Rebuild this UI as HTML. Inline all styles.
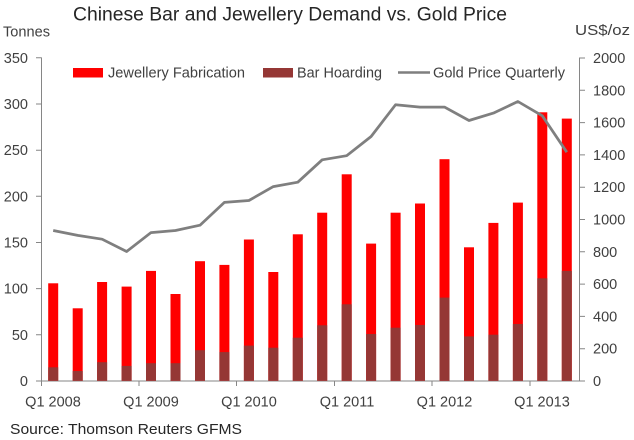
<!DOCTYPE html>
<html><head><meta charset="utf-8"><style>
html,body{margin:0;padding:0;background:#fff;}
svg{display:block;}
text{font-family:"Liberation Sans",sans-serif;fill:#404040;}
</style></head><body>
<svg width="634" height="440" viewBox="0 0 634 440" xmlns="http://www.w3.org/2000/svg">
<rect width="634" height="440" fill="#fff"/>
<text x="73" y="20.5" font-size="19" textLength="434" lengthAdjust="spacingAndGlyphs" style="fill:#262626">Chinese Bar and Jewellery Demand vs. Gold Price</text>
<text x="3" y="36.5" font-size="14.5" textLength="47" lengthAdjust="spacingAndGlyphs">Tonnes</text>
<text x="575" y="35" font-size="14.5" textLength="55" lengthAdjust="spacingAndGlyphs">US$/oz</text>

<!-- legend -->
<rect x="73" y="68" width="30" height="9.5" fill="#ff0000"/>
<text x="108" y="77.5" font-size="15" textLength="137" lengthAdjust="spacingAndGlyphs">Jewellery Fabrication</text>
<rect x="263" y="68" width="30" height="9.5" fill="#953735"/>
<text x="297" y="77.5" font-size="15" textLength="85" lengthAdjust="spacingAndGlyphs">Bar Hoarding</text>
<line x1="398" y1="72.5" x2="430" y2="72.5" stroke="#7f7f7f" stroke-width="2.5"/>
<text x="433" y="77.5" font-size="15" textLength="132" lengthAdjust="spacingAndGlyphs">Gold Price Quarterly</text>

<!-- axes -->
<g stroke="#868686" stroke-width="1" fill="none">
<line x1="41.5" y1="57.5" x2="41.5" y2="381"/>
<line x1="579.5" y1="57.5" x2="579.5" y2="381"/>
<line x1="41" y1="381" x2="580" y2="381"/>
<path d="M36 381H41.5M36 334.8H41.5M36 288.6H41.5M36 242.5H41.5M36 196.3H41.5M36 150.2H41.5M36 104H41.5M36 57.8H41.5"/>
<path d="M579.5 381H585M579.5 348.7H585M579.5 316.4H585M579.5 284.1H585M579.5 251.8H585M579.5 219.5H585M579.5 187.2H585M579.5 154.9H585M579.5 122.6H585M579.5 90.3H585M579.5 58H585"/>
<path d="M41.5 381V386M139 381V386M236.5 381V386M334.5 381V386M432 381V386M530 381V386"/>
</g>

<!-- left ticks -->
<g font-size="14.5" text-anchor="end">
<text x="28" y="386">0</text>
<text x="28" y="339.8">50</text>
<text x="28" y="293.6">100</text>
<text x="28" y="247.5">150</text>
<text x="28" y="201.3">200</text>
<text x="28" y="155.2">250</text>
<text x="28" y="109">300</text>
<text x="28" y="62.8">350</text>
</g>
<!-- right ticks -->
<g font-size="14.5">
<text x="593" y="386">0</text>
<text x="593" y="353.7">200</text>
<text x="593" y="321.4">400</text>
<text x="593" y="289.1">600</text>
<text x="593" y="256.8">800</text>
<text x="593" y="224.5">1000</text>
<text x="593" y="192.2">1200</text>
<text x="593" y="159.9">1400</text>
<text x="593" y="127.6">1600</text>
<text x="593" y="95.3">1800</text>
<text x="593" y="63">2000</text>
</g>
<!-- x labels -->
<g font-size="14.5" text-anchor="middle">
<text x="53" y="406.5">Q1 2008</text>
<text x="151" y="406.5">Q1 2009</text>
<text x="249" y="406.5">Q1 2010</text>
<text x="347" y="406.5">Q1 2011</text>
<text x="444.5" y="406.5">Q1 2012</text>
<text x="542" y="406.5">Q1 2013</text>
</g>
<text x="10" y="434" font-size="15" textLength="232" lengthAdjust="spacingAndGlyphs" style="fill:#262626">Source: Thomson Reuters GFMS</text>

<!-- red bars -->
<g fill="#ff0000">
<rect x="48.2" y="283.3" width="10" height="97.4"/>
<rect x="72.7" y="308.3" width="10" height="72.4"/>
<rect x="97.1" y="282" width="10" height="98.7"/>
<rect x="121.6" y="286.6" width="10" height="94.1"/>
<rect x="146" y="270.9" width="10" height="109.8"/>
<rect x="170.5" y="294" width="10" height="86.7"/>
<rect x="195" y="261.2" width="10" height="119.5"/>
<rect x="219.4" y="264.9" width="10" height="115.8"/>
<rect x="243.9" y="239.5" width="10" height="141.2"/>
<rect x="268.3" y="272" width="10" height="108.7"/>
<rect x="292.8" y="234.3" width="10" height="146.4"/>
<rect x="317.2" y="212.7" width="10" height="168"/>
<rect x="341.7" y="174.3" width="10" height="206.4"/>
<rect x="366.1" y="243.6" width="10" height="137.1"/>
<rect x="390.6" y="212.7" width="10" height="168"/>
<rect x="415" y="203.5" width="10" height="177.2"/>
<rect x="439.5" y="159.2" width="10" height="221.5"/>
<rect x="464" y="247.3" width="10" height="133.4"/>
<rect x="488.4" y="222.9" width="10" height="157.8"/>
<rect x="512.9" y="202.6" width="10" height="178.1"/>
<rect x="537.3" y="112.3" width="10" height="268.4"/>
<rect x="561.8" y="118.6" width="10" height="262.1"/>
</g>
<!-- dark bars -->
<g fill="#953735">
<rect x="48.2" y="367.3" width="10" height="13.4"/>
<rect x="72.7" y="371" width="10" height="9.7"/>
<rect x="97.1" y="362.2" width="10" height="18.5"/>
<rect x="121.6" y="365.9" width="10" height="14.8"/>
<rect x="146" y="363.2" width="10" height="17.5"/>
<rect x="170.5" y="363.2" width="10" height="17.5"/>
<rect x="195" y="350.2" width="10" height="30.5"/>
<rect x="219.4" y="352.1" width="10" height="28.6"/>
<rect x="243.9" y="345.6" width="10" height="35.1"/>
<rect x="268.3" y="347.7" width="10" height="33"/>
<rect x="292.8" y="337.7" width="10" height="43"/>
<rect x="317.2" y="325.3" width="10" height="55.4"/>
<rect x="341.7" y="304.3" width="10" height="76.4"/>
<rect x="366.1" y="334" width="10" height="46.7"/>
<rect x="390.6" y="327.7" width="10" height="53"/>
<rect x="415" y="325" width="10" height="55.7"/>
<rect x="439.5" y="297.6" width="10" height="83.1"/>
<rect x="464" y="336.4" width="10" height="44.3"/>
<rect x="488.4" y="334.7" width="10" height="46"/>
<rect x="512.9" y="324" width="10" height="56.7"/>
<rect x="537.3" y="278.3" width="10" height="102.4"/>
<rect x="561.8" y="270.9" width="10" height="109.8"/>
</g>

<!-- gold price line -->
<polyline fill="none" stroke="#7f7f7f" stroke-width="2.75" stroke-linejoin="round"
points="53.2,230.5 77.7,235.4 102.1,239.2 126.6,251.5 151,232.6 175.5,230.5 200,225.2 224.4,202.4 248.9,200.5 273.3,186.6 297.8,182.2 322.2,159.8 346.7,155.7 371.1,136.5 395.6,104.7 420,107.1 444.5,107.1 469,120.5 493.4,113.1 517.9,101.5 542.3,115.8 566.8,152.2"/>
</svg>
</body></html>
